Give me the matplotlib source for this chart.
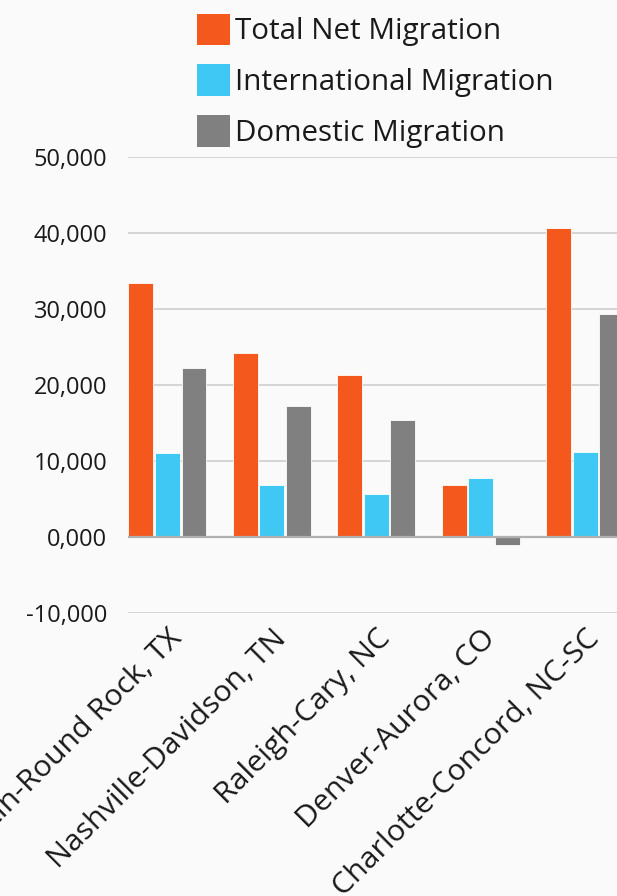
import matplotlib
matplotlib.use("Agg")
import matplotlib.pyplot as plt
from matplotlib.patches import Patch
import numpy as np

# Metro areas and net migration components
metros = ["Austin-Round Rock, TX", "Nashville-Davidson, TN", "Raleigh-Cary, NC",
          "Denver-Aurora, CO", "Charlotte-Concord, NC-SC"]
total_net = [33400, 24200, 21300, 6900, 40600]
international = [11000, 6800, 5700, 7800, 11200]
domestic = [22300, 17200, 15400, -1000, 29300]

series_names = ["Total Net Migration", "International Migration", "Domestic Migration"]
colors = ["#F4581C", "#3FC8F3", "#7F807F"]

y_ticks = [-10000, 0, 10000, 20000, 30000, 40000, 50000]
y_tick_labels = ["-10,000", "0,000", "10,000", "20,000", "30,000", "40,000", "50,000"]

plt.rcParams["font.family"] = ["Open Sans", "DejaVu Sans"]
bg = "#FAFAFA"
txt = "#1a1a1a"

fig = plt.figure(figsize=(6.17, 8.96), dpi=100, facecolor=bg)
ax = fig.add_axes([128 / 617, 1 - 613 / 896, 1 - 128 / 617, (613 - 157) / 896])
ax.set_facecolor(bg)

x = np.arange(len(metros))
width = 0.239
offset = 0.254
for k, (vals, col) in enumerate(zip([total_net, international, domestic], colors)):
    ax.bar(x + (k - 1) * offset, vals, width, color=col, edgecolor="#fdfdfd",
           linewidth=0.6, zorder=3)

ax.set_ylim(-10000, 50000)
ax.set_xlim(-0.378, 4.305)
ax.set_yticks(y_ticks)
ax.set_yticklabels(y_tick_labels, fontsize=17, color=txt)
ax.tick_params(axis="y", length=0, pad=15)
ax.grid(axis="y", color="#d4d4d4", linewidth=1.4, zorder=0)
ax.axhline(0, color="#b0b0b0", linewidth=1.6, zorder=4)
for s in ax.spines.values():
    s.set_visible(False)

ax.set_xticks(x)
ax.set_xticklabels(metros, rotation=45, ha="right", va="top", rotation_mode="anchor",
                   fontsize=21.8, color=txt)
ax.tick_params(axis="x", length=0, pad=8)

handles = [Patch(facecolor=c, edgecolor="none") for c in colors]
fig.legend(handles, series_names, loc="upper left", bbox_to_anchor=(176 / 617, 1.008),
           frameon=False, fontsize=21.3, handlelength=1.11, handleheight=1.28,
           handletextpad=0.17, labelspacing=0.6, borderaxespad=0.3,
           labelcolor=txt)

fig.savefig("out.png", dpi=100, facecolor=bg)
